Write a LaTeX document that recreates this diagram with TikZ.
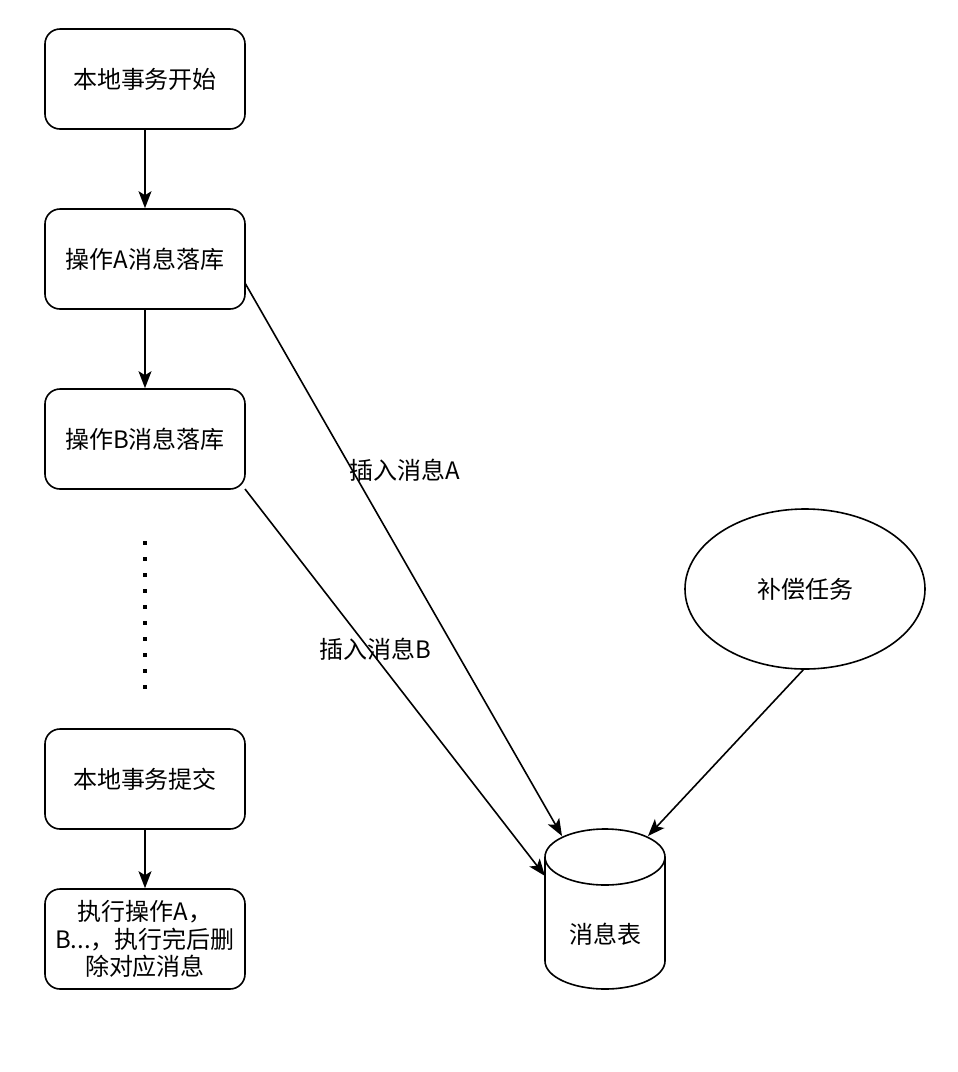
\documentclass[tikz,border=0pt]{standalone}
\usepackage{fontspec}
\setmainfont{Noto Sans CJK SC}
\usetikzlibrary{arrows.meta,shapes.geometric}
\begin{document}
\begin{tikzpicture}[x=1pt,y=-1pt,
  every node/.style={font=\fontsize{24}{27.5}\selectfont, inner sep=0pt},
  stepbox/.style={draw, line width=1.6pt, rounded corners=15pt, minimum width=200pt, minimum height=100pt, align=center},
  conn/.style={line width=1.6pt, -{Stealth[length=17pt,width=13pt,inset=4pt]}},
  lbl/.style={font=\fontsize{24}{28}\selectfont}]
\useasboundingbox (0,0) rectangle (958,1072);
\node[stepbox] (b1) at (145,79) {本地事务开始};
\node[stepbox] (b2) at (145,259) {操作A消息落库};
\node[stepbox] (b3) at (145,439) {操作B消息落库};
\node[stepbox] (b4) at (145,779) {本地事务提交};
\node[stepbox] (b5) at (145,939) {执行操作A，\\B...，执行完后删\\除对应消息};
\node[draw, line width=1.6pt, ellipse, minimum width=240pt, minimum height=160pt] (task) at (805,589) {补偿任务};
% cylinder
\draw[line width=1.6pt, fill=white] (545,857) -- (545,961) arc[start angle=180, end angle=0, x radius=60, y radius=28] -- (665,857) arc[start angle=0, end angle=-180, x radius=60, y radius=28] -- cycle;
\draw[line width=1.6pt] (545,857) arc[start angle=180, end angle=0, x radius=60, y radius=28];
\node (tbl) at (605,934) {消息表};
\coordinate (cA) at (562,836);
\coordinate (cB) at (545,876);
\coordinate (cT) at (648,836);
\coordinate (b2r) at (245,283);
\coordinate (b3r) at (245,489);
\coordinate (tk) at (804,669);
\draw[conn] (b1.south) -- (b2.north);
\draw[conn] (b2.south) -- (b3.north);
\draw[conn] (b4.south) -- (b5.north);
\draw[conn] (b2r) -- (cA);
\draw[conn] (b3r) -- (cB);
\draw[conn] (tk) -- (cT);
\node[lbl] (la) at (405,470) {插入消息A};
\node[lbl] (lb) at (375,649) {插入消息B};
\coordinate (d1) at (145,541);
\coordinate (d2) at (145,690);
\draw[line width=3.5pt, dash pattern=on 3.5pt off 12.5pt] (d1) -- (d2);
\end{tikzpicture}
\end{document}
